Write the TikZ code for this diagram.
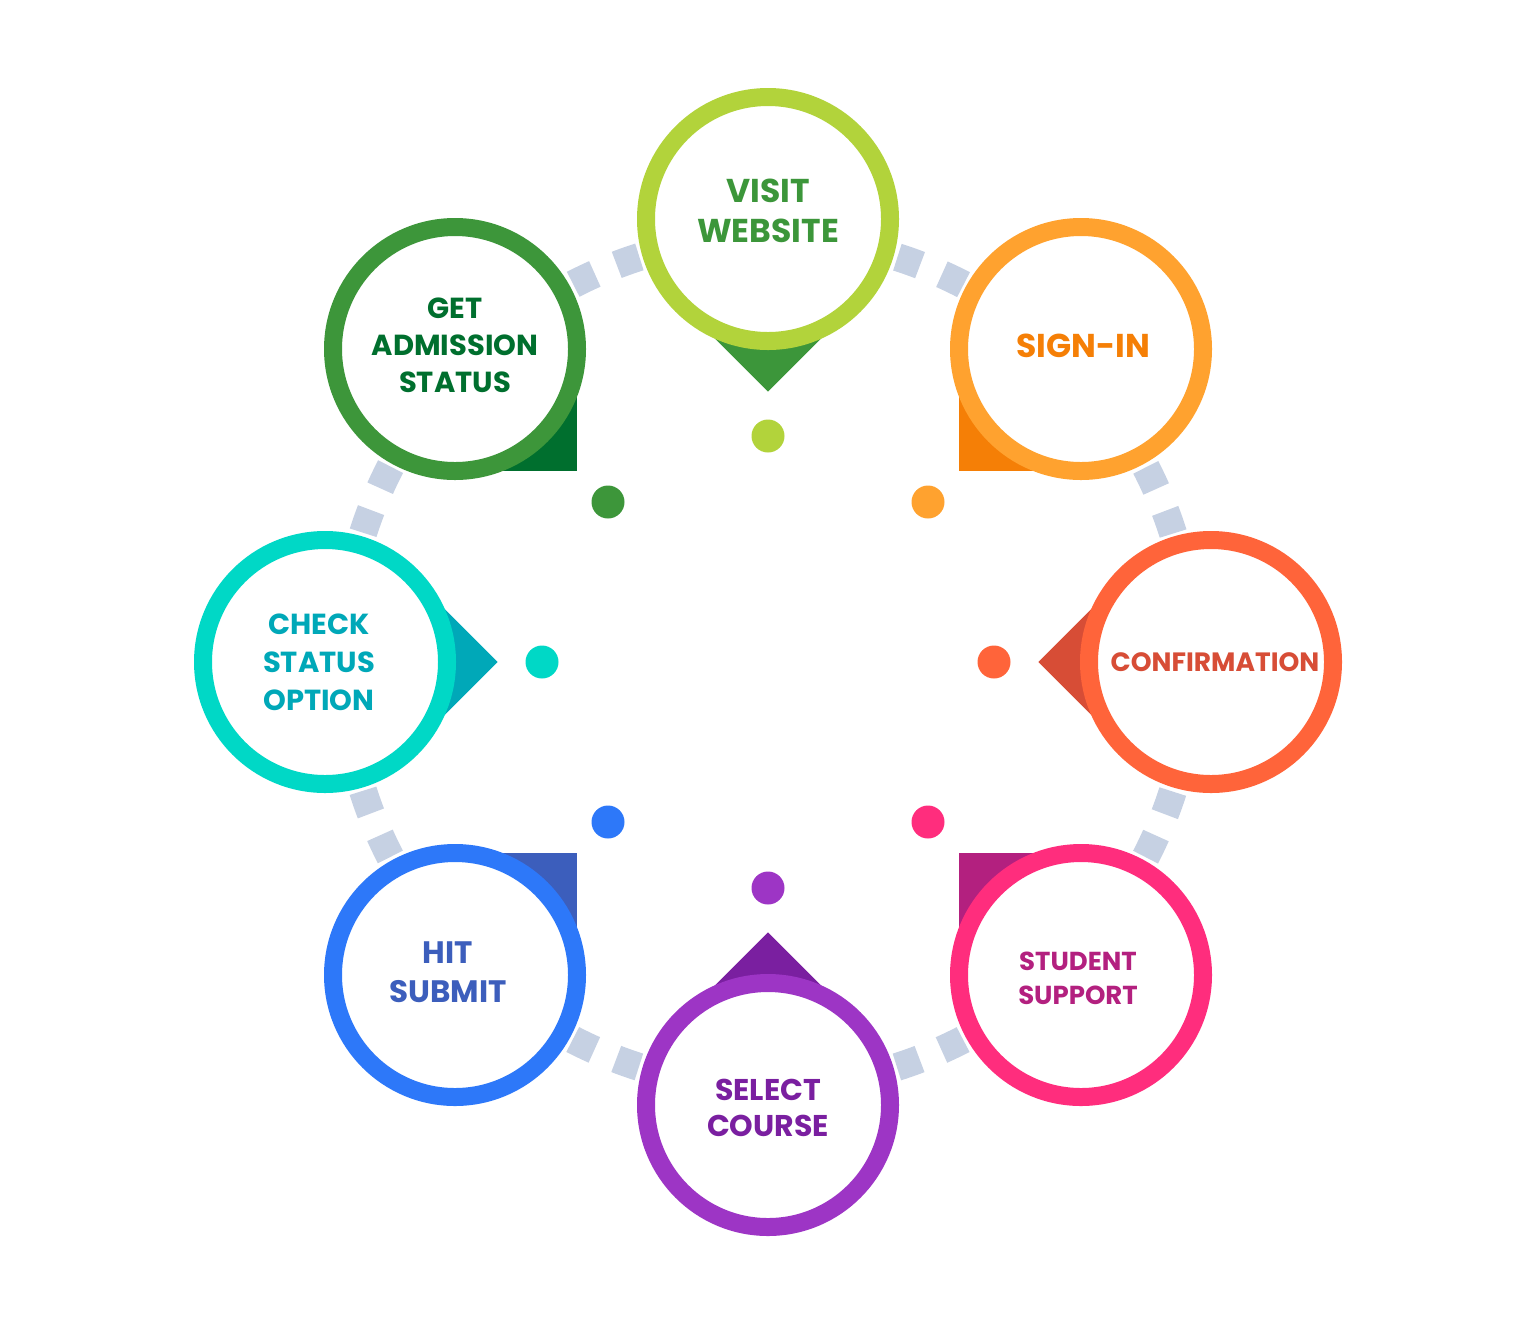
\documentclass[tikz,border=0pt]{standalone}
\usepackage{fontspec}
\setmainfont{Poppins}
\usetikzlibrary{backgrounds}

\definecolor{trackgray}{HTML}{C6D1E3}
\definecolor{visitring}{HTML}{B2D33B}
\definecolor{visitdark}{HTML}{3C963A}
\definecolor{signring}{HTML}{FFA22F}
\definecolor{signdark}{HTML}{F57F06}
\definecolor{confring}{HTML}{FF643A}
\definecolor{confdark}{HTML}{D74D36}
\definecolor{suppring}{HTML}{FF2D7D}
\definecolor{suppdark}{HTML}{B3207F}
\definecolor{selring}{HTML}{9D35C5}
\definecolor{seldark}{HTML}{7A1FA0}
\definecolor{hitring}{HTML}{2D78F9}
\definecolor{hitdark}{HTML}{3C5EBC}
\definecolor{checkring}{HTML}{00D8C6}
\definecolor{checkdark}{HTML}{00A8B8}
\definecolor{getring}{HTML}{3D963A}
\definecolor{getdark}{HTML}{006F2E}

\begin{document}
\begin{tikzpicture}[x=1pt, y=-1pt]
            \tikzstyle{ring}=[circle, draw, line width=18pt, fill=white, minimum size=244pt, inner sep=0pt]
            \tikzstyle{steptext}=[inner sep=0pt, align=center]
            \tikzstyle{dot}=[circle, minimum size=33pt, inner sep=0pt]
            \tikzstyle{track}=[draw=trackgray, line width=28pt, dash pattern=on 24pt off 23.7pt, dash phase=35.85pt]

            \useasboundingbox (0,0) rectangle (1536,1326);
            \coordinate (hub) at (768,662);

            % Steps
            \node[ring, draw=visitring] (visit) at (768,219) {};
            \node[ring, draw=signring] (signin) at (1081,349) {};
            \node[ring, draw=confring] (confirm) at (1211,662) {};
            \node[ring, draw=suppring] (support) at (1081,975) {};
            \node[ring, draw=selring] (course) at (768,1105) {};
            \node[ring, draw=hitring] (submit) at (455,975) {};
            \node[ring, draw=checkring] (check) at (325,662) {};
            \node[ring, draw=getring] (status) at (455,349) {};

            % Texts
            \node[steptext, text=visitdark, font=\bfseries\fontsize{33}{40}\selectfont] (tvisit) at (768,211) {VISIT\\WEBSITE};
            \node[steptext, text=signdark, font=\bfseries\fontsize{33}{40}\selectfont] (tsignin) at (1083,346) {SIGN-IN};
            \node[steptext, text=confdark, font=\bfseries\fontsize{26.5}{34}\selectfont] (tconfirm) at (1215,662) {CONFIRMATION};
            \node[steptext, text=suppdark, font=\bfseries\fontsize{26}{34}\selectfont] (tsupport) at (1078,978) {STUDENT\\SUPPORT};
            \node[steptext, text=seldark, font=\bfseries\fontsize{30}{36}\selectfont] (tcourse) at (768,1108) {SELECT\\COURSE};
            \node[steptext, text=hitdark, font=\bfseries\fontsize{31}{39}\selectfont] (tsubmit) at (448,972) {HIT\\SUBMIT};
            \node[steptext, text=checkdark, font=\bfseries\fontsize{29}{38}\selectfont] (tcheck) at (319,662) {CHECK\\STATUS\\OPTION};
            \node[steptext, text=getdark, font=\bfseries\fontsize{29}{37}\selectfont] (tstatus) at (455,345) {GET\\ADMISSION\\STATUS};

            % Dots
            \node[dot, fill=visitring] (d1) at (768,436) {};
            \node[dot, fill=signring] (d2) at (928,502) {};
            \node[dot, fill=confring] (d3) at (994,662) {};
            \node[dot, fill=suppring] (d4) at (928,822) {};
            \node[dot, fill=selring] (d5) at (768,888) {};
            \node[dot, fill=hitring] (d6) at (608,822) {};
            \node[dot, fill=checkring] (d7) at (542,662) {};
            \node[dot, fill=getring] (d8) at (608,502) {};

            % Track and pointers
            \begin{scope}[on background layer]
                \draw[track] (hub) ++(22.5:425) arc[start angle=22.5, delta angle=360, radius=425];
                \fill[visitdark] (visit.center) -- ++(45:122) -- ++(135:122) -- ++(225:122) -- cycle;
                \fill[signdark] (signin.center) -- ++(90:122) -- ++(180:122) -- ++(270:122) -- cycle;
                \fill[confdark] (confirm.center) -- ++(135:122) -- ++(225:122) -- ++(315:122) -- cycle;
                \fill[suppdark] (support.center) -- ++(180:122) -- ++(270:122) -- ++(0:122) -- cycle;
                \fill[seldark] (course.center) -- ++(225:122) -- ++(315:122) -- ++(45:122) -- cycle;
                \fill[hitdark] (submit.center) -- ++(270:122) -- ++(0:122) -- ++(90:122) -- cycle;
                \fill[checkdark] (check.center) -- ++(-45:122) -- ++(45:122) -- ++(135:122) -- cycle;
                \fill[getdark] (status.center) -- ++(0:122) -- ++(90:122) -- ++(180:122) -- cycle;
            \end{scope}
\end{tikzpicture}
\end{document}
